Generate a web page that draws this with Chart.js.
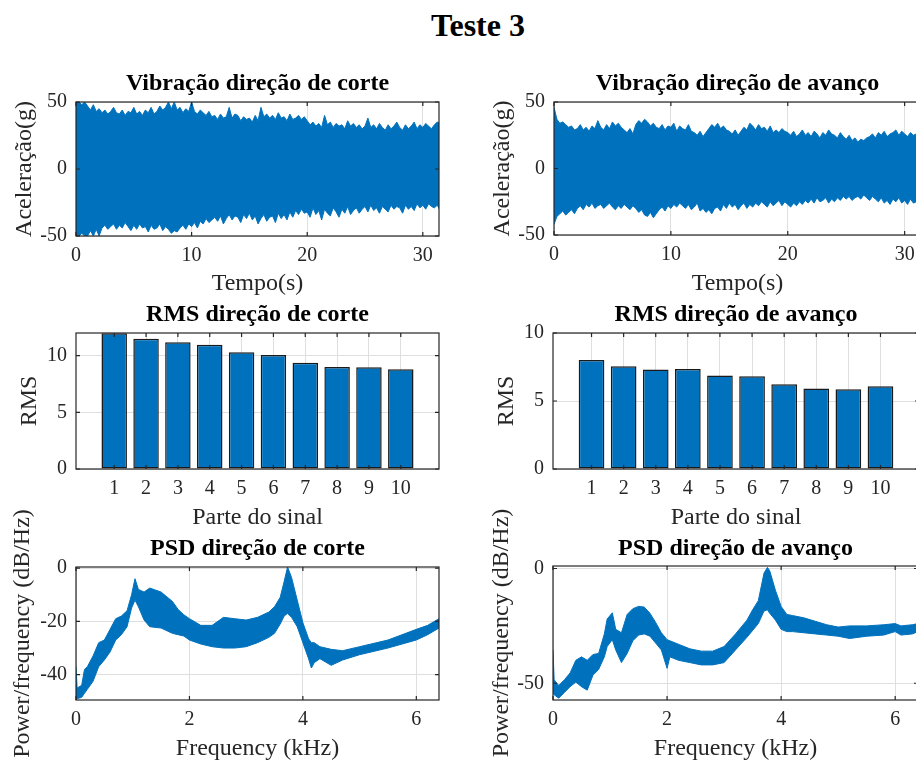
<!DOCTYPE html>
<html>
<head>
<meta charset="utf-8">
<script src="https://cdn.jsdelivr.net/npm/chart.js@4.4.1/dist/chart.umd.min.js"></script>
<style>
  html, body { margin: 0; padding: 0; background: #fff; overflow: hidden; }
  #figura { position: relative; width: 916px; height: 762px; overflow: hidden; background: #fff; }
  #titulo { position: absolute; left: 0; top: 9px; width: 956px; text-align: center;
            font: bold 32px/32px "Liberation Serif", serif; color: #000; }
  canvas { position: absolute; }
</style>
</head>
<body>
<div id="figura">
  <div id="titulo">Teste 3</div>
</div>
<script>
// Dados (envelopes dos sinais, valores RMS, envelopes das PSD)
const tempo = [0,0.25,0.5,0.75,1,1.25,1.5,1.75,2,2.25,2.5,2.75,3,3.25,3.5,3.75,4,4.25,4.5,4.75,
    5,5.25,5.5,5.75,6,6.25,6.5,6.75,7,7.25,7.5,7.75,8,8.25,8.5,8.75,9,9.25,9.5,9.75,
    10,10.25,10.5,10.75,11,11.25,11.5,11.75,12,12.25,12.5,12.75,13,13.25,13.5,13.75,14,14.25,14.5,14.75,
    15,15.25,15.5,15.75,16,16.25,16.5,16.75,17,17.25,17.5,17.75,18,18.25,18.5,18.75,19,19.25,19.5,19.75,
    20,20.25,20.5,20.75,21,21.25,21.5,21.75,22,22.25,22.5,22.75,23,23.25,23.5,23.75,24,24.25,24.5,24.75,
    25,25.25,25.5,25.75,26,26.25,26.5,26.75,27,27.25,27.5,27.75,28,28.25,28.5,28.75,29,29.25,29.5,29.75,
    30,30.25,30.5,30.75,31,31.25,31.5];
const corteSup = [50,50,48,50, 47,44,48,43, 45,42,44,41, 43,46,42,41, 44,40,43,42,
    46,41,43,40, 44,42,46,41, 43,47,44,46, 50,45,50,44, 46,42,45,43,
    50,43,41,44, 42,40,43,39, 40,37,41,38, 39,46,38,41, 40,36,39,37,
    38,35,40,36, 46,39,41,38, 40,37,42,38, 39,36,41,37, 38,40,37,39,
    36,33,35,32, 34,31,40,33, 35,31,34,32, 33,30,36,32, 34,31,33,30,
    32,38,31,33, 30,34,31,29, 33,30,32,35, 31,29,33,30, 32,35,30,33,
    31,34,32,30, 33,35,34];
const corteInf = [-50,-50,-48,-50, -50,-46,-50,-45, -50,-44,-42,-45, -43,-41,-45,-42, -44,-40,-43,-46,
    -42,-45,-41,-44, -43,-47,-42,-45, -44,-41,-46,-43, -45,-48,-46,-47, -44,-42,-45,-41,
    -43,-40,-44,-39, -41,-37,-40,-38, -36,-39,-35,-41, -37,-34,-38,-35, -36,-40,-34,-37,
    -33,-38,-35,-41, -37,-34,-39,-36, -35,-40,-33,-37, -34,-38,-32,-36, -31,-34,-30,-33,
    -32,-36,-29,-34, -31,-38,-30,-33, -35,-29,-32,-36, -30,-33,-28,-34, -31,-29,-33,-30,
    -28,-32,-27,-31, -29,-33,-28,-30, -32,-27,-30,-28, -29,-33,-27,-30, -28,-31,-26,-29,
    -27,-30,-26,-28, -29,-27,-31];
const avancoSup = [46,37,34,35, 33,31,32,29, 30,33,29,31, 28,32,30,36, 31,29,33,30,
    35,32,34,31, 29,27,30,26, 33,36,34,37, 35,32,34,31, 30,33,29,32,
    31,34,28,32, 30,29,33,28, 27,25,28,24, 27,30,33,31, 34,30,32,29,
    28,26,29,25, 28,31,29,34, 32,29,33,30, 31,28,32,27, 29,27,30,28,
    27,25,28,24, 26,29,25,27, 24,28,26,23, 27,25,29,26, 25,23,27,24,
    22,25,21,23, 20,22,21,23, 24,26,23,27, 25,28,24,26, 27,29,25,28,
    26,24,27,25, 26,24,27];
const avancoInf = [-42,-36,-34,-32, -35,-33,-31,-34, -30,-28,-31,-27, -29,-26,-30,-28, -27,-30,-28,-26,
    -29,-31,-28,-30, -27,-29,-31,-28, -30,-33,-31,-35, -36,-33,-37,-34, -31,-29,-32,-28,
    -30,-27,-29,-26, -28,-30,-27,-31, -29,-26,-32,-30, -33,-31,-34,-30, -29,-32,-27,-30,
    -26,-29,-27,-31, -28,-26,-30,-27, -29,-26,-28,-25, -27,-29,-25,-28, -26,-24,-28,-25,
    -27,-29,-26,-28, -25,-27,-24,-26, -23,-26,-22,-25, -24,-22,-26,-23, -25,-22,-24,-21,
    -23,-21,-24,-22, -21,-23,-20,-22, -24,-21,-23,-25, -22,-26,-24,-27, -23,-25,-22,-26,
    -24,-27,-23,-26, -25,-28,-26];

const partes = [1,2,3,4,5,6,7,8,9,10];
const rmsCorte = [11.98,11.5,11.18,10.97,10.3,10.06,9.38,9.0,8.97,8.8];
const rmsAvanco = [8.02,7.56,7.31,7.36,6.87,6.82,6.24,5.92,5.87,6.09];

const freqCorte = [0,0.02,0.1,0.15,0.2,0.3,0.4,0.5,0.6,0.7, 0.8,0.9,0.98,1.04,1.1,1.2,1.3,1.5,1.7,1.8, 1.9,2.0,2.2,2.4,2.6,2.8,3.0,3.2,3.4,3.5, 3.6,3.67,3.73,3.8,3.9,4.0,4.1,4.15,4.2,4.3, 4.5,4.7,5.0,5.5,6.0,6.2,6.4];
const psdCorteSup = [-37,-45,-44,-38,-37,-33,-28,-27,-23,-19, -18,-16,-10,-4,-8,-9,-7.5,-9,-12.5,-15.5, -17.5,-19,-21.5,-21.5,-18.5,-19,-19.5,-18.5,-16.5,-14.5, -11,-5,0.4,-3.5,-12,-20.5,-26.5,-28,-28,-29.5, -30.5,-31,-29.5,-27,-23,-21.5,-19];
const psdCorteInf = [-49.3,-49,-48.5,-47,-45.5,-42.5,-37,-34.5,-31.5,-27, -25,-22,-15,-12,-14.5,-19.5,-22,-22.5,-24.5,-25, -25.5,-27,-28.5,-29.5,-30,-30,-29.5,-28,-26,-24.5, -21,-18,-17,-18.5,-22,-28,-34,-37.5,-35.5,-34, -36.5,-34.5,-32.5,-30,-27,-25,-22.5];

const freqAvanco = [0,0.02,0.1,0.2,0.3,0.4,0.5,0.6,0.7,0.8, 0.9,0.95,1.04,1.1,1.2,1.3,1.4,1.5,1.6,1.7, 1.8,1.9,2.0,2.05,2.2,2.4,2.6,2.8,3.0,3.2, 3.4,3.5,3.6,3.7,3.76,3.8,3.9,4.0,4.1,4.2, 4.4,4.6,4.8,5.0,5.2,5.5,5.8,6.0,6.1,6.3, 6.4];
const psdAvancoSup = [-35.5,-48.5,-51,-48.5,-45.5,-40,-38.5,-40,-37.5,-37, -28.5,-22,-19.3,-26.5,-28,-20,-17.5,-16.5,-16.8,-19.5, -23.5,-28,-31,-31.5,-33,-35,-36,-36,-34,-28.5, -22.5,-18,-14,-2,0.5,-1,-9.5,-16.5,-20,-20.5, -21.5,-23,-24.5,-25.5,-25,-25,-24.5,-24,-25,-24.5, -24];
const psdAvancoInf = [-54,-55,-56.5,-54,-51.5,-49.5,-51.5,-53,-46.5,-44, -38.5,-34,-31,-35.5,-41,-37,-31.5,-29,-28.5,-29.5, -32.5,-35.5,-43.5,-38.5,-40,-41,-42,-42,-41,-35.5, -30,-27,-24,-18.5,-18,-19.5,-22.5,-26.5,-27.5,-27.5, -28,-28.5,-29,-29.5,-30.5,-29.5,-29,-27.5,-29,-28.5, -27.5];

// marcas dos eixos
const ticksTempo = [0,10,20,30];
const ticksAcel = [-50,0,50];
const ticksRms = [0,5,10];
const ticksFreq = [0,2,4,6];
const ticksPsdCorte = [-40,-20,0];
const ticksPsdAvanco = [-50,0];

const BLU = '#0072BD';
const CINZA = '#262626';
const GRADE = '#dfdfdf';
const SERIF = '"Liberation Serif", "Times New Roman", serif';

Chart.defaults.font.family = SERIF;
Chart.defaults.color = CINZA;
Chart.defaults.animation = false;

// caixa estilo MATLAB com marcas para dentro
const moldura = {
    id: 'moldura',
    afterDraw(chart) {
        const { ctx, chartArea: a, scales } = chart;
        const x = scales.x, y = scales.y;
        ctx.save();
        ctx.strokeStyle = CINZA;
        ctx.lineWidth = 1.2;
        ctx.beginPath();
        x.ticks.forEach(t => {
            const px = x.getPixelForValue(t.value);
            ctx.moveTo(px, a.bottom); ctx.lineTo(px, a.bottom - 4);
            ctx.moveTo(px, a.top); ctx.lineTo(px, a.top + 4);
        });
        y.ticks.forEach(t => {
            const py = y.getPixelForValue(t.value);
            ctx.moveTo(a.left, py); ctx.lineTo(a.left + 4, py);
            ctx.moveTo(a.right, py); ctx.lineTo(a.right - 4, py);
        });
        ctx.stroke();
        ctx.strokeRect(a.left, a.top, a.right - a.left, a.bottom - a.top);
        ctx.restore();
    }
};

function eixo(min, max, ticks, texto, tamanho, padTitulo, horizontal) {
    return {
        type: 'linear', min, max, offset: false,
        afterBuildTicks: s => { s.ticks = ticks.map(v => ({ value: v })); },
        afterFit: s => { if (horizontal) s.height = tamanho; else s.width = tamanho; },
        grid: { color: GRADE, lineWidth: 1, drawTicks: false, offset: false },
        border: { display: false },
        ticks: { color: CINZA, font: { size: 20 }, padding: horizontal ? 8 : 9,
                 autoSkip: false, maxRotation: 0, callback: v => String(v) },
        title: { display: true, text: texto, color: CINZA, font: { size: 24 },
                 padding: horizontal ? { top: 0, bottom: padTitulo } : { top: padTitulo, bottom: 0 } }
    };
}

function faixa(xs, sup, inf) {
    return [
        { data: xs.map((v, i) => ({ x: v, y: sup[i] })), borderColor: BLU, backgroundColor: BLU,
          borderWidth: 1, pointRadius: 0, fill: '+1' },
        { data: xs.map((v, i) => ({ x: v, y: inf[i] })), borderColor: BLU, backgroundColor: BLU,
          borderWidth: 1, pointRadius: 0, fill: false }
    ];
}

function barras(valores) {
    return [{ data: partes.map((p, i) => ({ x: p, y: valores[i] })), backgroundColor: BLU,
              borderColor: '#1a1a1a', borderWidth: 1.5, borderSkipped: false,
              barPercentage: 0.8, categoryPercentage: 1 }];
}

function painel(p) {
    const c = document.createElement('canvas');
    c.width = p.caixa.width; c.height = p.caixa.height;
    c.style.left = p.caixa.left + 'px'; c.style.top = p.caixa.top + 'px';
    c.style.width = p.caixa.width + 'px'; c.style.height = p.caixa.height + 'px';
    document.getElementById('figura').appendChild(c);

    const a = p.area;
    const larguraY = a.l - p.caixa.left;
    const alturaX = p.caixa.top + p.caixa.height - a.b;
    const blocoTitulo = a.t - p.caixa.top;
    const padTop = p.tituloY - p.caixa.top - 14.4;

    new Chart(c.getContext('2d'), {
        type: p.tipo,
        data: { datasets: p.datasets },
        options: {
            responsive: false,
            animation: false,
            layout: { padding: { top: 0, left: 0, bottom: 0, right: p.caixa.left + p.caixa.width - a.r } },
            plugins: {
                legend: { display: false },
                tooltip: { enabled: false },
                title: { display: true, text: p.titulo, fullSize: false, color: '#000',
                         font: { size: 24, weight: 'bold' },
                         padding: { top: padTop, bottom: blocoTitulo - 28.8 - padTop } }
            },
            scales: {
                x: eixo(p.x[0], p.x[1], p.x[2], p.x[3], alturaX, 4, true),
                y: eixo(p.y[0], p.y[1], p.y[2], p.y[3], larguraY, p.yTituloX - p.caixa.left - 14.4, false)
            }
        },
        plugins: [moldura]
    });
}

painel({ caixa: { left: 0, top: 62, width: 460, height: 240 }, area: { l: 76, t: 102, r: 439, b: 236 },
         titulo: 'Vibração direção de corte', tituloY: 83.5, tipo: 'line',
         datasets: faixa(tempo, corteSup, corteInf),
         x: [0, 31.4, ticksTempo, 'Tempo(s)'], y: [-50, 50, ticksAcel, 'Aceleração(g)'], yTituloX: 25 });
painel({ caixa: { left: 460, top: 62, width: 475, height: 240 }, area: { l: 554, t: 102, r: 921, b: 235 },
         titulo: 'Vibração direção de avanço', tituloY: 83.5, tipo: 'line',
         datasets: faixa(tempo, avancoSup, avancoInf),
         x: [0, 31.4, ticksTempo, 'Tempo(s)'], y: [-50, 50, ticksAcel, 'Aceleração(g)'], yTituloX: 503 });
painel({ caixa: { left: 0, top: 293, width: 460, height: 243 }, area: { l: 76, t: 333, r: 439, b: 469 },
         titulo: 'RMS direção de corte', tituloY: 315, tipo: 'bar',
         datasets: barras(rmsCorte),
         x: [-0.2, 11.2, partes, 'Parte do sinal'], y: [0, 12, ticksRms, 'RMS'], yTituloX: 30 });
painel({ caixa: { left: 460, top: 293, width: 475, height: 243 }, area: { l: 553, t: 333, r: 919, b: 469 },
         titulo: 'RMS direção de avanço', tituloY: 315, tipo: 'bar',
         datasets: barras(rmsAvanco),
         x: [-0.2, 11.2, partes, 'Parte do sinal'], y: [0, 10, ticksRms, 'RMS'], yTituloX: 507 });
painel({ caixa: { left: 0, top: 500, width: 460, height: 267 }, area: { l: 76, t: 567, r: 439, b: 700 },
         titulo: 'PSD direção de corte', tituloY: 549, tipo: 'line',
         datasets: faixa(freqCorte, psdCorteSup, psdCorteInf),
         x: [0, 6.4, ticksFreq, 'Frequency (kHz)'], y: [-49.5, 0.4, ticksPsdCorte, 'Power/frequency (dB/Hz)'], yTituloX: 22.5 });
painel({ caixa: { left: 460, top: 500, width: 475, height: 267 }, area: { l: 553, t: 566, r: 918, b: 700 },
         titulo: 'PSD direção de avanço', tituloY: 549, tipo: 'line',
         datasets: faixa(freqAvanco, psdAvancoSup, psdAvancoInf),
         x: [0, 6.4, ticksFreq, 'Frequency (kHz)'], y: [-57.3, 1.1, ticksPsdAvanco, 'Power/frequency (dB/Hz)'], yTituloX: 502 });
</script>
</body>
</html>
